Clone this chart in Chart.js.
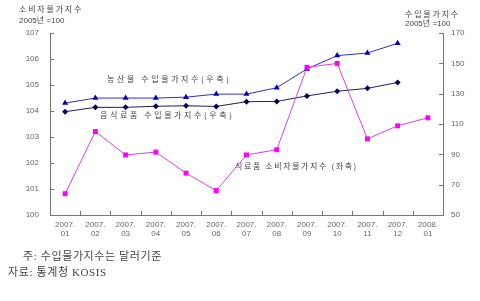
<!DOCTYPE html>
<html>
<head>
<meta charset="utf-8">
<script src="https://cdn.jsdelivr.net/npm/chart.js@4"></script>
<style>
  body { margin: 0; background: #fff; }
  #wrap { position: relative; width: 480px; height: 301px; }
  .t { position: absolute; white-space: nowrap; color: #444; font-family: "Noto Sans CJK KR", "Liberation Sans", sans-serif; line-height: 1; }
  .small { font-size: 8px; }
  .num { font-family: "Liberation Sans", "Noto Sans CJK KR", sans-serif; font-size: 8px; }
  .note { font-family: "Liberation Serif", "Noto Sans CJK KR", serif; font-size: 11px; color: #444; letter-spacing: 0.6px; }
</style>
</head>
<body>
<div id="wrap">
  <canvas id="chart" width="480" height="301"></canvas>

  <!-- axis titles -->
  <div class="t small" style="left:19px; top:5px; letter-spacing:1.8px;">소비자물가지수</div>
  <div class="t num" style="left:19px; top:17px;">2005년 =100</div>
  <div class="t small" style="left:405px; top:10px; letter-spacing:1.8px;">수입물가지수</div>
  <div class="t num" style="left:405px; top:20px;">2005년 =100</div>

  <!-- series labels -->
  <div class="t small" style="left:107px; top:75px; letter-spacing:2.6px;">농산물 수입물가지수(우축)</div>
  <div class="t small" style="left:100px; top:111px; letter-spacing:2.6px;">음식료품 수입물가지수(우축)</div>
  <div class="t small" style="left:235px; top:162px; letter-spacing:1.6px;">식료품 소비자물가지수 (좌축)</div>

  <!-- notes -->
  <div class="t note" style="left:23px; top:251px;">주: 수입물가지수는 달러기준</div>
  <div class="t note" style="left:8px; top:267px;">자료: 통계청 KOSIS</div>
</div>

<script>
// categories
const months = [
    ['2007.', '01'], ['2007.', '02'], ['2007.', '03'], ['2007.', '04'], ['2007.', '05'],
    ['2007.', '06'], ['2007.', '07'], ['2007.', '08'], ['2007.', '09'], ['2007.', '10'],
    ['2007.', '11'], ['2007.', '12'], ['2008.', '01']
];

// 식료품 소비자물가지수 (left axis)
const foodCpi = [100.82, 103.21, 102.31, 102.42, 101.61, 100.94, 102.31, 102.51, 105.68, 105.83, 102.93, 103.43, 103.74];

// 농산물 수입물가지수 (right axis)
const agriImport = [123.8, 127.1, 127.1, 127.1, 127.7, 129.7, 129.7, 133.9, 146.3, 155.1, 156.8, 163.2, null];

// 음식료품 수입물가지수 (right axis)
const foodImport = [118.1, 121.0, 121.0, 121.7, 122.0, 121.6, 124.7, 124.9, 128.5, 131.6, 133.5, 137.4, null];

// axis ranges
const leftTicks = [100, 107, 1];
const rightTicks = [50, 170, 20];

// inward tick marks like the original
const innerTicks = {
    id: 'innerTicks',
    afterDatasetsDraw(chart) {
        const ctx = chart.ctx;
        const area = chart.chartArea;
        const x = chart.scales.x;
        const yL = chart.scales.yL;
        const yR = chart.scales.yR;
        ctx.save();
        ctx.strokeStyle = '#777';
        ctx.lineWidth = 1;
        ctx.beginPath();
        yL.ticks.forEach((t, i) => {
            const p = Math.round(yL.getPixelForTick(i)) + 0.5;
            ctx.moveTo(area.left, p);
            ctx.lineTo(area.left + 4, p);
        });
        yR.ticks.forEach((t, i) => {
            const p = Math.round(yR.getPixelForTick(i)) + 0.5;
            ctx.moveTo(area.right - 4, p);
            ctx.lineTo(area.right, p);
        });
        for (let i = 0; i < months.length - 1; i++) {
            const p = Math.round((x.getPixelForTick(i) + x.getPixelForTick(i + 1)) / 2) + 0.5;
            ctx.moveTo(p, area.bottom);
            ctx.lineTo(p, area.bottom - 4);
        }
        ctx.stroke();
        ctx.restore();
    }
};

const tickFont = { family: '"Liberation Sans", sans-serif', size: 8, lineHeight: 1.15 };

new Chart(document.getElementById('chart'), {
    type: 'line',
    data: {
        labels: months,
        datasets: [
            {
                label: '식료품 소비자물가지수',
                data: foodCpi,
                yAxisID: 'yL',
                borderColor: '#e040e0',
                backgroundColor: '#ff00ff',
                borderWidth: 1,
                pointStyle: 'rect',
                pointRadius: 3.5,
                pointBorderWidth: 0,
                tension: 0
            },
            {
                label: '농산물 수입물가지수',
                data: agriImport,
                yAxisID: 'yR',
                borderColor: '#3030c8',
                backgroundColor: '#0000b0',
                borderWidth: 1,
                pointStyle: 'triangle',
                pointRadius: 3.5,
                pointBorderWidth: 0,
                tension: 0
            },
            {
                label: '음식료품 수입물가지수',
                data: foodImport,
                yAxisID: 'yR',
                borderColor: '#202050',
                backgroundColor: '#000060',
                borderWidth: 1,
                pointStyle: 'rectRot',
                pointRadius: 3,
                pointBorderWidth: 0,
                tension: 0
            }
        ]
    },
    plugins: [innerTicks],
    options: {
        responsive: false,
        animation: false,
        devicePixelRatio: 1,
        layout: { padding: { top: 33, bottom: 46, left: 0, right: 0 } },
        plugins: {
            legend: { display: false },
            tooltip: { enabled: false }
        },
        scales: {
            x: {
                offset: true,
                grid: { display: true, drawOnChartArea: false, drawTicks: false, color: '#777' },
                border: { color: '#777' },
                ticks: { color: '#666', font: tickFont, padding: 5, maxRotation: 0, autoSkip: false },
                afterFit(s) { s.height = 40; }
            },
            yL: {
                position: 'left',
                min: leftTicks[0],
                max: leftTicks[1],
                grid: { display: true, drawOnChartArea: false, drawTicks: false, color: '#777' },
                border: { color: '#777' },
                ticks: { stepSize: leftTicks[2], color: '#666', font: tickFont, padding: 11 },
                afterFit(s) { s.width = 50; }
            },
            yR: {
                position: 'right',
                min: rightTicks[0],
                max: rightTicks[1],
                grid: { display: true, drawOnChartArea: false, drawTicks: false, color: '#777' },
                border: { color: '#777' },
                ticks: { stepSize: rightTicks[2], color: '#666', font: tickFont, padding: 8 },
                afterFit(s) { s.width = 37; }
            }
        }
    }
});
</script>
</body>
</html>
